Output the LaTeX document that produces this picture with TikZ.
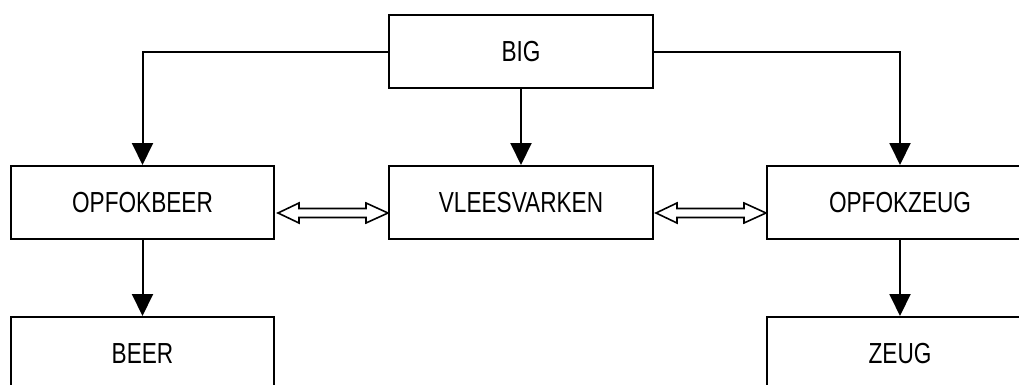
\documentclass[tikz,border=0pt]{standalone}
\usepackage{fontspec}
\setmainfont{Liberation Sans}[FakeStretch=0.78]
\usetikzlibrary{arrows.meta,calc}

\begin{document}
\begin{tikzpicture}[x=1pt,y=1pt]
		
		\useasboundingbox (0,0) rectangle (1019,-385);
		\clip (0,0) rectangle (1019,-385);
		
		\tikzstyle{edge} = [draw,line width=2pt,-{Triangle[length=22pt,width=21pt]}]
		% open arrow with two parallel lines
		\tikzstyle{twoway} = [draw,line width=1.6pt,to path={let \p1=(\tikztostart), \p2=(\tikztotarget) in
			(\x1,\y1) -- (\x1+21pt,\y1+10pt) -- (\x1+21pt,\y1+4.5pt) -- (\x2-22pt,\y1+4.5pt) -- (\x2-22pt,\y1+10pt)
			-- (\x2,\y1) -- (\x2-22pt,\y1-10pt) -- (\x2-22pt,\y1-4.5pt) -- (\x1+21pt,\y1-4.5pt) -- (\x1+21pt,\y1-10pt) -- cycle}]
		
		\tikzset{vertex/.style = {shape=rectangle,draw,line width=2pt,minimum width=263pt,minimum height=73pt,font=\fontsize{29}{34}\selectfont}}
		\node[vertex,minimum width=264pt] (big) at (521,-52) {BIG};
		\node[vertex] (opfokbeer) at (142.5,-202.5) {OPFOKBEER};
		\node[vertex,minimum width=264pt] (vlees) at (521,-202.5) {VLEESVARKEN};
		\node[vertex,minimum width=266pt] (opfokzeug) at (900,-202.5) {OPFOKZEUG};
		\node[vertex] (beer) at (142.5,-353.5) {BEER};
		\node[vertex,minimum width=266pt] (zeug) at (900,-353.5) {ZEUG};
		
		\draw[edge] (big.west) -| (opfokbeer.north);
		\draw[edge] (big) -- (vlees);
		\draw[edge] (big.east) -| (opfokzeug.north);
		\draw[edge] (opfokbeer) -- (beer);
		\draw[edge] (opfokzeug) -- (zeug);
		\draw[twoway] ([shift={(3pt,-10.5pt)}]opfokbeer.east) to ([yshift=-10.5pt]vlees.west);
		\draw[twoway] ([shift={(2pt,-10.5pt)}]vlees.east) to ([yshift=-10.5pt]opfokzeug.west);
		\end{tikzpicture}
\end{document}
